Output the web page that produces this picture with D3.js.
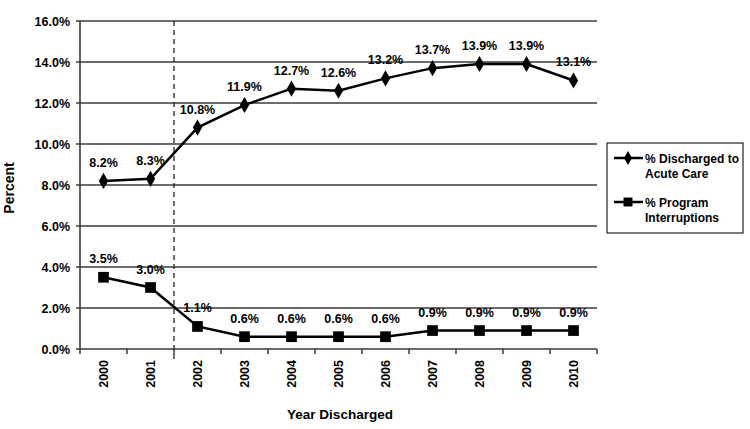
<!DOCTYPE html>
<html>
<head>
<meta charset="utf-8">
<script src="https://cdn.jsdelivr.net/npm/d3@7"></script>
<style>
  body { margin: 0; background: #fff; }
  text { font-family: "Liberation Sans", Arial, sans-serif; font-weight: bold; fill: #000; }
</style>
</head>
<body>
<div id="chart"></div>
<script>
// years along the bottom
var years = ["2000", "2001", "2002", "2003", "2004", "2005", "2006", "2007", "2008", "2009", "2010"];
// two series, in percent
var acuteCare = [8.2, 8.3, 10.8, 11.9, 12.7, 12.6, 13.2, 13.7, 13.9, 13.9, 13.1];
var interruptions = [3.5, 3.0, 1.1, 0.6, 0.6, 0.6, 0.6, 0.9, 0.9, 0.9, 0.9];
var yTicks = [0, 2, 4, 6, 8, 10, 12, 14, 16];
var seriesNames = ["% Discharged to|Acute Care", "% Program|Interruptions"];
var dashedAfter = "2001";

var width = 750, height = 429;
var plotLeft = 80, plotRight = 597, plotTop = 21, plotBottom = 349;

var svg = d3.select('#chart').append('svg')
  .attr('width', width)
  .attr('height', height);

var x = d3.scaleBand().domain(years).range([plotLeft, plotRight]);
var y = d3.scaleLinear().domain([0, 16]).range([plotBottom, plotTop]);

// gridlines
svg.append('g').selectAll('line')
  .data(yTicks)
  .enter().append('line')
  .attr('x1', plotLeft - 4).attr('x2', plotRight)
  .attr('y1', function(d){ return y(d); })
  .attr('y2', function(d){ return y(d); })
  .style('stroke', '#3a3a3a')
  .style('stroke-width', 1.6);

// y axis line
svg.append('line')
  .attr('x1', plotLeft).attr('x2', plotLeft)
  .attr('y1', plotTop).attr('y2', plotBottom)
  .style('stroke', '#3a3a3a').style('stroke-width', 1.6);

// y tick labels
svg.append('g').selectAll('text')
  .data(yTicks)
  .enter().append('text')
  .attr('x', plotLeft - 10)
  .attr('y', function(d){ return y(d) + 4.5; })
  .attr('text-anchor', 'end')
  .style('font-size', '12.5px')
  .text(function(d){ return d.toFixed(1) + '%'; });

// x ticks at band edges
var edges = years.map(function(d){ return x(d); }).concat([plotRight]);
svg.append('g').selectAll('line')
  .data(edges)
  .enter().append('line')
  .attr('x1', function(d){ return d; }).attr('x2', function(d){ return d; })
  .attr('y1', plotBottom).attr('y2', plotBottom + 5)
  .style('stroke', '#3a3a3a').style('stroke-width', 1.5);

// x tick labels, rotated
svg.append('g').selectAll('text')
  .data(years)
  .enter().append('text')
  .attr('transform', function(d){
    return 'translate(' + (x(d) + x.bandwidth() / 2 + 4.5) + ',' + (plotBottom + 11) + ') rotate(-90)';
  })
  .attr('text-anchor', 'end')
  .style('font-size', '12.5px')
  .text(function(d){ return d; });

// dashed separator
var dx = x(dashedAfter) + x.bandwidth();
svg.append('line')
  .attr('x1', dx).attr('x2', dx)
  .attr('y1', plotTop).attr('y2', plotBottom + 12)
  .style('stroke', '#222').style('stroke-width', 1.3)
  .style('stroke-dasharray', '5,4');

var line = d3.line()
  .x(function(d, i){ return x(years[i]) + x.bandwidth() / 2; })
  .y(function(d){ return y(d); });

function drawSeries(values, shape) {
  svg.append('path')
    .datum(values)
    .attr('d', line)
    .style('fill', 'none')
    .style('stroke', '#000')
    .style('stroke-width', 2.5);

  svg.append('g').selectAll('path')
    .data(values)
    .enter().append('path')
    .attr('transform', function(d, i){
      return 'translate(' + (x(years[i]) + x.bandwidth() / 2) + ',' + y(d) + ')';
    })
    .attr('d', d3.symbol().type(shape).size(shape === d3.symbolSquare ? 115 : 75))
    .style('fill', '#000');

  svg.append('g').selectAll('text')
    .data(values)
    .enter().append('text')
    .attr('x', function(d, i){ return x(years[i]) + x.bandwidth() / 2; })
    .attr('y', function(d){ return y(d) - 14; })
    .attr('text-anchor', 'middle')
    .style('font-size', '12.5px')
    .text(function(d){ return d.toFixed(1) + '%'; });
}

drawSeries(acuteCare, d3.symbolDiamond);
drawSeries(interruptions, d3.symbolSquare);

// axis titles
svg.append('text')
  .attr('x', 340)
  .attr('y', 419)
  .attr('text-anchor', 'middle')
  .style('font-size', '13.5px')
  .text('Year Discharged');

svg.append('text')
  .attr('transform', 'translate(14,188) rotate(-90)')
  .attr('text-anchor', 'middle')
  .style('font-size', '14px')
  .text('Percent');

// legend
var legend = svg.append('g').attr('transform', 'translate(607,143)');
legend.append('rect')
  .attr('width', 136).attr('height', 90)
  .style('fill', '#fff').style('stroke', '#222').style('stroke-width', 1.2);

var items = legend.selectAll('g.item')
  .data([d3.symbolDiamond, d3.symbolSquare])
  .enter().append('g')
  .attr('transform', function(d, i){ return 'translate(0,' + (15 + i * 44) + ')'; });

items.append('line')
  .attr('x1', 7).attr('x2', 36).attr('y1', 0).attr('y2', 0)
  .style('stroke', '#000').style('stroke-width', 2.5);
items.append('path')
  .attr('transform', 'translate(21,0)')
  .attr('d', function(d){ return d3.symbol().type(d).size(d === d3.symbolSquare ? 80 : 55)(); })
  .style('fill', '#000');

items.each(function(d, i){
  var lines = seriesNames[i].split('|');
  d3.select(this).selectAll('text')
    .data(lines)
    .enter().append('text')
    .attr('x', 38)
    .attr('y', function(t, j){ return 4.5 + j * 15; })
    .style('font-size', '12px')
    .text(function(t){ return t; });
});
</script>
</body>
</html>
